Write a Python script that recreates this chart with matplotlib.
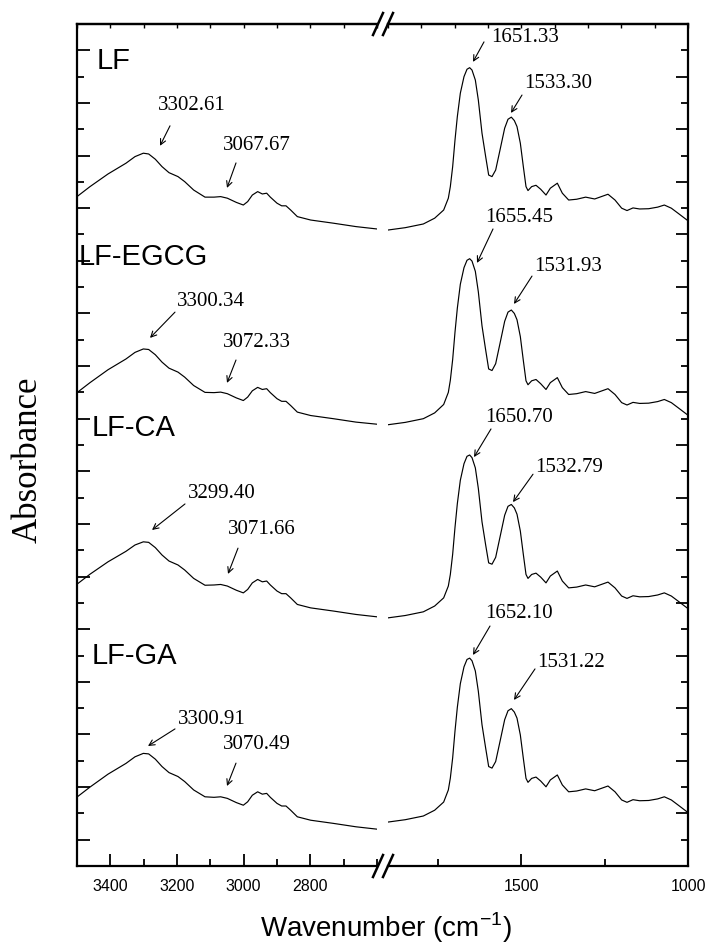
import matplotlib
matplotlib.use('Agg')
import matplotlib.pyplot as plt
from matplotlib.lines import Line2D
from matplotlib.ticker import FixedLocator, MultipleLocator

plt.rcParams['font.family'] = 'Liberation Sans'
plt.rcParams['mathtext.fontset'] = 'custom'
plt.rcParams['mathtext.rm'] = 'Liberation Sans'

# 高波数段 3500-2600 cm-1
wn_hi = [3500, 3461, 3407, 3353, 3326, 3301, 3285, 3265, 3245, 3224, 3197, 3177,
         3150, 3116, 3089, 3069, 3049, 3022, 3001, 2988, 2974, 2958, 2944, 2931,
         2920, 2900, 2886, 2873, 2859, 2839, 2799, 2731, 2663, 2600]
lf_hi = [1.44, 1.82, 2.30, 2.71, 2.96, 3.09, 3.06, 2.86, 2.58, 2.35, 2.20, 2.01,
         1.69, 1.42, 1.42, 1.44, 1.38, 1.22, 1.12, 1.25, 1.50, 1.63, 1.54, 1.57,
         1.42, 1.19, 1.09, 1.09, 0.93, 0.68, 0.55, 0.43, 0.30, 0.21]
egcg_hi = [1.40, 1.78, 2.27, 2.68, 2.93, 3.06, 3.04, 2.84, 2.56, 2.33, 2.18, 1.99,
           1.67, 1.41, 1.40, 1.42, 1.36, 1.20, 1.10, 1.23, 1.47, 1.60, 1.52, 1.55,
           1.40, 1.17, 1.07, 1.07, 0.91, 0.66, 0.53, 0.41, 0.28, 0.20]
ca_hi = [1.46, 1.84, 2.31, 2.71, 2.95, 3.07, 3.05, 2.85, 2.57, 2.34, 2.19, 2.00,
         1.68, 1.42, 1.43, 1.45, 1.39, 1.23, 1.13, 1.26, 1.51, 1.64, 1.55, 1.58,
         1.43, 1.20, 1.10, 1.10, 0.94, 0.69, 0.56, 0.44, 0.31, 0.22]
ga_hi = [1.42, 1.80, 2.29, 2.70, 2.95, 3.08, 3.06, 2.86, 2.58, 2.35, 2.20, 2.01,
         1.69, 1.43, 1.41, 1.43, 1.37, 1.21, 1.11, 1.24, 1.49, 1.62, 1.53, 1.56,
         1.41, 1.18, 1.08, 1.08, 0.92, 0.67, 0.54, 0.42, 0.29, 0.20]

# 低波数段 1900-1000 cm-1
wn_lo = [1900, 1848, 1794, 1760, 1733, 1719, 1713, 1706, 1699, 1692, 1683, 1672,
         1663, 1655, 1648, 1638, 1629, 1618, 1607, 1598, 1588, 1577, 1564, 1550,
         1540, 1530, 1521, 1513, 1503, 1494, 1486, 1480, 1469, 1456, 1442, 1426,
         1413, 1392, 1377, 1358, 1334, 1307, 1280, 1240, 1219, 1199, 1183, 1165,
         1145, 1118, 1091, 1071, 1050, 1030, 1003, 1000]
lf_lo = [0.17, 0.26, 0.40, 0.62, 0.93, 1.38, 1.82, 2.58, 3.59, 4.48, 5.37, 6.00,
         6.28, 6.34, 6.25, 5.87, 5.11, 3.85, 2.96, 2.26, 2.20, 2.45, 3.21, 4.04,
         4.38, 4.46, 4.33, 4.10, 3.47, 2.58, 1.82, 1.67, 1.82, 1.87, 1.72, 1.50,
         1.76, 1.95, 1.57, 1.31, 1.34, 1.42, 1.35, 1.53, 1.31, 1.00, 0.91, 1.01,
         0.97, 0.98, 1.04, 1.12, 1.00, 0.81, 0.55, 0.52]
egcg_lo = [0.18, 0.27, 0.41, 0.63, 0.95, 1.41, 1.87, 2.66, 3.70, 4.61, 5.52, 6.15,
           6.43, 6.49, 6.40, 6.01, 5.23, 3.94, 3.02, 2.30, 2.24, 2.50, 3.27, 4.11,
           4.46, 4.54, 4.41, 4.17, 3.53, 2.62, 1.85, 1.70, 1.85, 1.90, 1.74, 1.52,
           1.78, 1.97, 1.59, 1.33, 1.36, 1.44, 1.37, 1.55, 1.33, 1.02, 0.93, 1.03,
           0.99, 1.00, 1.06, 1.14, 1.02, 0.83, 0.57, 0.54]
ca_lo = [0.18, 0.27, 0.41, 0.63, 0.94, 1.39, 1.83, 2.60, 3.62, 4.52, 5.41, 6.04,
         6.32, 6.37, 6.27, 5.88, 5.10, 3.83, 2.95, 2.27, 2.22, 2.48, 3.25, 4.08,
         4.42, 4.49, 4.36, 4.12, 3.48, 2.59, 1.83, 1.68, 1.83, 1.88, 1.73, 1.51,
         1.77, 1.96, 1.58, 1.32, 1.35, 1.43, 1.36, 1.54, 1.32, 1.01, 0.92, 1.02,
         0.98, 0.99, 1.05, 1.13, 1.01, 0.82, 0.56, 0.53]
ga_lo = [0.47, 0.56, 0.70, 0.92, 1.23, 1.69, 2.14, 2.91, 3.93, 4.83, 5.73, 6.37,
         6.65, 6.70, 6.60, 6.21, 5.44, 4.17, 3.28, 2.58, 2.52, 2.77, 3.53, 4.36,
         4.70, 4.78, 4.65, 4.42, 3.78, 2.89, 2.13, 1.98, 2.13, 2.18, 2.03, 1.81,
         2.07, 2.26, 1.88, 1.62, 1.65, 1.73, 1.66, 1.84, 1.62, 1.31, 1.22, 1.32,
         1.28, 1.29, 1.35, 1.43, 1.31, 1.12, 0.86, 0.83]

names = ['LF', 'LF-EGCG', 'LF-CA', 'LF-GA']
spec_hi = [lf_hi, egcg_hi, ca_hi, ga_hi]
spec_lo = [lf_lo, egcg_lo, ca_lo, ga_lo]
offsets = [24.0, 16.59, 9.25, 1.20]  # 堆叠偏移

fig = plt.figure(figsize=(7.07, 9.47), dpi=100)
ax1 = fig.add_axes([77 / 707, 81 / 947, 300 / 707, 842 / 947])
ax2 = fig.add_axes([388 / 707, 81 / 947, 300 / 707, 842 / 947])

for hi, lo, off in zip(spec_hi, spec_lo, offsets):
    ax1.plot(wn_hi, [v + off for v in hi], color='black', lw=0.85)
    ax2.plot(wn_lo, [v + off for v in lo], color='black', lw=0.85)

ax1.set_xlim(3500, 2600)
ax2.set_xlim(1900, 1000)
for ax in (ax1, ax2):
    ax.set_ylim(0, 32)
    ax.tick_params(which='both', direction='in', width=1.3, labelsize=11.5, pad=9)
    ax.tick_params(which='major', length=9)
    ax.tick_params(which='minor', length=5)
    ax.tick_params(axis='y', labelleft=False, labelright=False)
    for sp in ax.spines.values():
        sp.set_linewidth(1.6)
    top = ax.secondary_xaxis('top')
    top.xaxis.set_major_locator(MultipleLocator(100))
    top.tick_params(direction='in', length=3, width=1.0, labeltop=False)
    top.spines['top'].set_linewidth(1.6)

ax1.xaxis.set_major_locator(FixedLocator([3400, 3200, 3000, 2800]))
ax1.xaxis.set_minor_locator(MultipleLocator(100))
ax2.xaxis.set_major_locator(FixedLocator([1500, 1000]))
ax2.xaxis.set_minor_locator(FixedLocator([1750, 1250]))
ax1.yaxis.set_major_locator(FixedLocator(range(1, 32, 2)))
ax1.yaxis.set_minor_locator(FixedLocator(range(0, 33, 2)))
ax2.yaxis.set_major_locator(FixedLocator(range(0, 33, 2)))
ax2.yaxis.set_minor_locator(FixedLocator(range(1, 32, 2)))
ax1.spines['right'].set_visible(False)
ax2.spines['left'].set_visible(False)
ax1.tick_params(axis='y', which='both', right=False)
ax2.tick_params(axis='y', which='both', left=False, right=True)

# 断轴标记
for xc in (378, 388):
    for yc in (24, 866):
        fig.add_artist(Line2D([(xc - 5) / 707, (xc + 5) / 707],
                              [1 - (yc + 11) / 947, 1 - (yc - 11) / 947],
                              transform=fig.transFigure, color='black', lw=1.8))

fig.text(28 / 707, 1 - 460 / 947, 'Absorbance', rotation=90, ha='center', va='center',
         fontsize=25, family='Liberation Serif')
fig.text(386 / 707, 1 - 928 / 947, 'Wavenumber (cm$^{-1}$)', ha='center', va='center', fontsize=20)

label_pos = [(3440, 30.6), (3494, 23.15), (3455, 16.65), (3455, 7.98)]
for n, (x, y) in zip(names, label_pos):
    ax1.text(x, y, n, fontsize=21, ha='left', va='center')

# (轴, 文本, 文字位置, 箭尾, 箭头)
peaks = [
    (ax1, '3302.61', (3155, 28.92), (3221, 28.13), (3251, 27.37)),
    (ax1, '3067.67', (2960, 27.40), (3023, 26.72), (3050, 25.77)),
    (ax2, '1651.33', (1489, 31.47), (1612, 31.32), (1645, 30.56)),
    (ax2, '1533.30', (1390, 29.72), (1498, 29.30), (1531, 28.62)),
    (ax2, '1655.45', (1507, 24.63), (1585, 24.21), (1633, 22.92)),
    (ax2, '1531.93', (1360, 22.80), (1468, 22.42), (1522, 21.36)),
    (ax1, '3300.34', (3098, 21.44), (3206, 21.05), (3281, 20.07)),
    (ax1, '3072.33', (2960, 19.91), (3023, 19.23), (3050, 18.36)),
    (ax2, '1650.70', (1507, 17.03), (1591, 16.61), (1642, 15.54)),
    (ax2, '1532.79', (1357, 15.16), (1465, 14.89), (1525, 13.83)),
    (ax1, '3299.40', (3065, 14.14), (3176, 13.76), (3275, 12.77)),
    (ax1, '3071.66', (2945, 12.77), (3017, 12.08), (3047, 11.10)),
    (ax2, '1652.10', (1507, 9.58), (1594, 9.12), (1645, 8.02)),
    (ax2, '1531.22', (1351, 7.75), (1459, 7.49), (1522, 6.31)),
    (ax1, '3300.91', (3095, 5.55), (3206, 5.21), (3287, 4.56)),
    (ax1, '3070.49', (2960, 4.60), (3023, 3.91), (3050, 3.04)),
]
for ax, t, tp, tail, head in peaks:
    ax.text(tp[0], tp[1], t, ha='center', va='center', fontsize=15, family='Liberation Serif')
    ax.annotate('', xy=head, xytext=tail,
                arrowprops=dict(arrowstyle='->', lw=0.8, color='black', shrinkA=0, shrinkB=0))

fig.savefig('out.png', dpi=100)
